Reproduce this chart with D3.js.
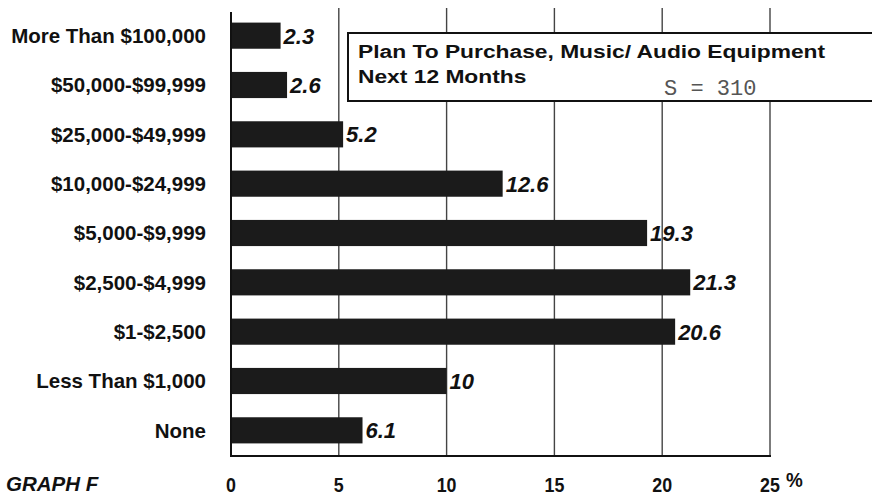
<!DOCTYPE html>
<html>
<head>
<meta charset="utf-8">
<script src="https://cdn.jsdelivr.net/npm/d3@7/dist/d3.min.js"></script>
<style>
  html, body { margin: 0; padding: 0; background: #fff; }
  svg { display: block; }
</style>
</head>
<body>
<svg id="chart" width="872" height="495"></svg>
<script>
// Household income categories, top to bottom
const categories = [
  "More Than $100,000",
  "$50,000-$99,999",
  "$25,000-$49,999",
  "$10,000-$24,999",
  "$5,000-$9,999",
  "$2,500-$4,999",
  "$1-$2,500",
  "Less Than $1,000",
  "None"
];
// Percent planning to purchase music / audio equipment
const values = [2.3, 2.6, 5.2, 12.6, 19.3, 21.3, 20.6, 10, 6.1];
const tickValues = [0, 5, 10, 15, 20, 25];
const titleLines = ["Plan To Purchase, Music/ Audio Equipment", "Next 12 Months"];
const sampleLabel = "S = 310";
const graphLabel = "GRAPH F";

const svg = d3.select("#chart");

const x = d3.scaleLinear().domain([0, 25]).range([231, 770]);
const y = d3.scaleBand().domain(categories).range([11, 455])
  .paddingInner(0.47).paddingOuter(0.235);

const axisY = 456;
const gridTop = 8;
const sans = "Liberation Sans, Arial, Helvetica, sans-serif";

// vertical grid lines
svg.append("g")
  .selectAll("line")
  .data(tickValues.filter(d => d > 0))
  .join("line")
  .attr("x1", d => x(d)).attr("x2", d => x(d))
  .attr("y1", gridTop).attr("y2", axisY)
  .attr("stroke", "#444").attr("stroke-width", 1.4);

// bars
svg.append("g")
  .selectAll("rect")
  .data(values)
  .join("rect")
  .attr("x", x(0))
  .attr("y", (d, i) => y(categories[i]))
  .attr("width", d => x(d) - x(0))
  .attr("height", y.bandwidth())
  .attr("fill", "#1b1b1b");

// left axis and baseline
svg.append("line")
  .attr("x1", x(0)).attr("x2", x(0))
  .attr("y1", 12).attr("y2", axisY + 1)
  .attr("stroke", "#111").attr("stroke-width", 2);
svg.append("line")
  .attr("x1", x(0) - 1).attr("x2", x(25) + 1)
  .attr("y1", axisY).attr("y2", axisY)
  .attr("stroke", "#111").attr("stroke-width", 2.2);

// category labels
svg.append("g")
  .selectAll("text")
  .data(categories)
  .join("text")
  .attr("x", 206)
  .attr("y", d => y(d) + y.bandwidth() / 2)
  .attr("dy", "0.36em")
  .attr("text-anchor", "end")
  .attr("font-family", sans)
  .attr("font-weight", "bold")
  .attr("font-size", 20.5)
  .attr("fill", "#111")
  .text(d => d);

// value labels
svg.append("g")
  .selectAll("text")
  .data(values)
  .join("text")
  .attr("x", d => x(d) + 3)
  .attr("y", (d, i) => y(categories[i]) + y.bandwidth() / 2)
  .attr("dy", "0.36em")
  .attr("font-family", sans)
  .attr("font-weight", "bold")
  .attr("font-style", "italic")
  .attr("font-size", 22)
  .attr("fill", "#111")
  .text(d => d);

// legend / title box
const box = svg.append("g");
box.append("rect")
  .attr("x", 348).attr("y", 33)
  .attr("width", 540).attr("height", 68)
  .attr("fill", "#fff")
  .attr("stroke", "#111").attr("stroke-width", 2);
box.selectAll("text.title")
  .data(titleLines)
  .join("text")
  .attr("class", "title")
  .attr("transform", (d, i) => `translate(358,${58 + i * 25}) scale(1.2,1)`)
  .attr("font-family", sans)
  .attr("font-weight", "bold")
  .attr("font-size", 19)
  .attr("fill", "#111")
  .text(d => d);
box.append("text")
  .attr("x", 664).attr("y", 95)
  .attr("font-family", "Liberation Mono, Courier New, monospace")
  .attr("font-size", 22)
  .attr("fill", "#555")
  .attr("xml:space", "preserve")
  .text(sampleLabel);

// x tick labels (condensed face)
const tickG = svg.append("g")
  .attr("font-family", sans)
  .attr("font-weight", "bold")
  .attr("font-size", 21)
  .attr("fill", "#111");
tickG.selectAll("text")
  .data(tickValues)
  .join("text")
  .attr("transform", d => `translate(${x(d)},492) scale(0.85,1)`)
  .attr("text-anchor", "middle")
  .text(d => d);
tickG.append("text")
  .attr("transform", `translate(${x(25) + 16},487) scale(0.9,1)`)
  .attr("font-size", 21)
  .text("%");

// graph caption
svg.append("text")
  .attr("x", 6).attr("y", 491)
  .attr("font-family", sans)
  .attr("font-weight", "bold")
  .attr("font-style", "italic")
  .attr("font-size", 20.5)
  .attr("fill", "#111")
  .text(graphLabel);
</script>
</body>
</html>
